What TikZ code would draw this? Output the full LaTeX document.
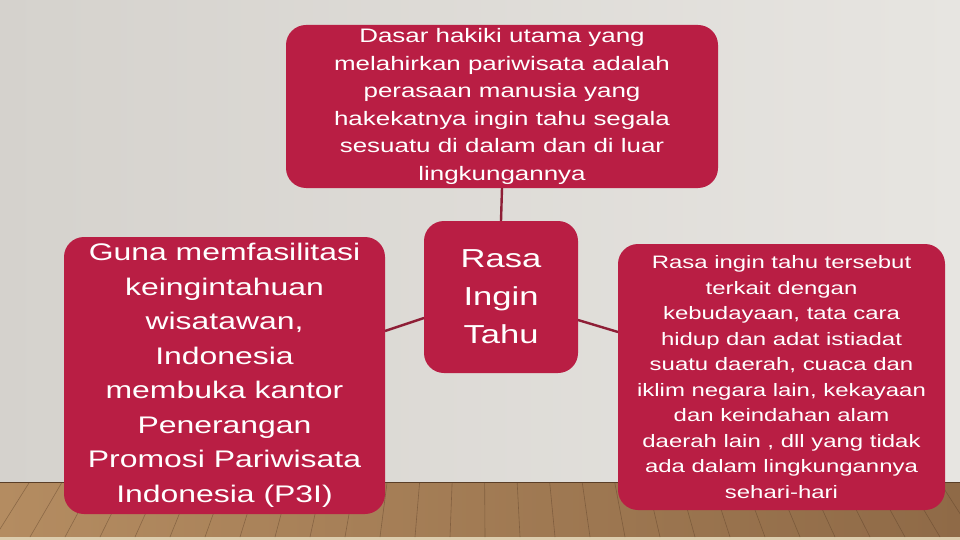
\documentclass[tikz,border=0pt]{standalone}
\usepackage{fontspec}
\setmainfont{Liberation Sans}[FakeStretch=1.33]
\usetikzlibrary{calc, positioning}

\definecolor{boxred}{HTML}{B91E44}
\definecolor{linkred}{HTML}{8E1E36}
\definecolor{wallL}{HTML}{D5D2CD}
\definecolor{wallR}{HTML}{E7E5E1}
\definecolor{woodA}{HTML}{8F6A47}
\definecolor{woodB}{HTML}{B48C61}
\definecolor{seam}{HTML}{5A3E27}
\definecolor{skirt}{HTML}{DCCDAE}

\begin{document}
\begin{tikzpicture}[x=1pt, y=-1pt,
        box/.style={fill=boxred, rounded corners=20pt, text=white, align=center, inner sep=0pt, outer sep=0pt},
        link/.style={draw=linkred, line width=2.4pt}]
        \useasboundingbox (0,0) rectangle (960,540);

        % wall and floor
        \fill[left color=wallL, right color=wallR] (0,0) rectangle (960,482);
        \fill[left color=woodB, right color=woodA] (0,482) rectangle (960,537);
        \fill[skirt] (0,537) rectangle (960,540);
        \foreach \x in {-180,-145,...,1140}
            \draw[seam, line width=0.6pt, opacity=0.45] (\x,537) -- ({480+(\x-480)*0.93},483);
        \draw[seam, line width=1.2pt] (0,482.5) -- (960,482.5);

        \node (dasar) [box, minimum width=432pt, minimum height=163pt, font=\fontsize{19.5}{27.5}\selectfont] at (502,106.5)
            {Dasar hakiki utama yang\\ melahirkan pariwisata adalah\\ perasaan manusia yang\\ hakekatnya ingin tahu segala\\ sesuatu di dalam dan di luar\\ lingkungannya};
        \node (rasa) [box, minimum width=154pt, minimum height=152pt, font=\fontsize{26}{38}\selectfont] at (501,297)
            {Rasa\\ Ingin\\ Tahu};
        \node (guna) [box, minimum width=321pt, minimum height=277pt, font=\fontsize{24}{34.5}\selectfont] at (224.5,375.5)
            {Guna memfasilitasi\\ keingintahuan\\ wisatawan,\\ Indonesia\\ membuka kantor\\ Penerangan\\ Promosi Pariwisata\\ Indonesia (P3I)};
        \node (tahu) [box, minimum width=327pt, minimum height=266pt, font=\fontsize{18}{25.5}\selectfont] at (781.5,377)
            {Rasa ingin tahu tersebut\\ terkait dengan\\ kebudayaan, tata cara\\ hidup dan adat istiadat\\ suatu daerah, cuaca dan\\ iklim negara lain, kekayaan\\ dan keindahan alam\\ daerah lain , dll yang tidak\\ ada dalam lingkungannya\\ sehari-hari};

        \draw[link] (dasar.south) -- (rasa.north);
        \draw[link] ([yshift=44.5pt]guna.east) -- ([yshift=-21pt]rasa.west);
        \draw[link] ([yshift=-23pt]rasa.east) -- ([yshift=45pt]tahu.west);

        \end{tikzpicture}
\end{document}
